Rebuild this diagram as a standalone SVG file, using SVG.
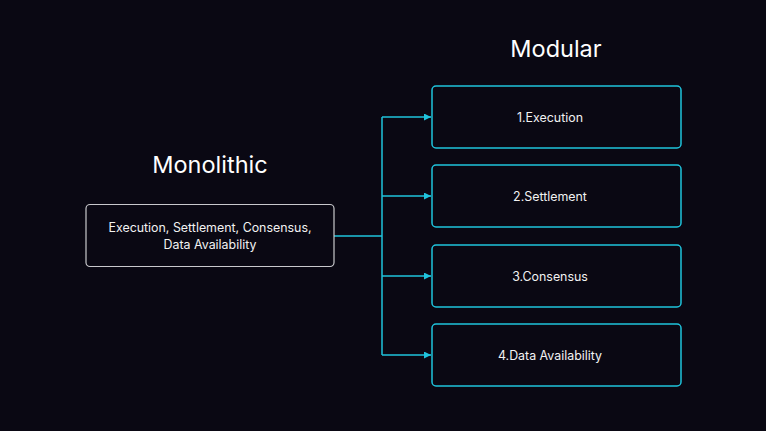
<svg xmlns="http://www.w3.org/2000/svg" width="766" height="431" viewBox="0 0 766 431">
<style>
.t{font-family:"Inter","Liberation Sans",sans-serif;fill:#ffffff;}
.title{font-size:23.5px;text-anchor:middle;}
.lbl{font-size:12.4px;text-anchor:middle;fill:#f2f2f2;}
.mod{fill:#0a0813;stroke:#1fc3dc;stroke-width:1.5;}
.mono{fill:#0a0813;stroke:#c8c8cc;stroke-width:1.2;}
.c{fill:none;stroke:#1fc3dc;stroke-width:1.5;}
</style>
<defs>
<marker id="ah" viewBox="0 0 10 10" refX="10" refY="5" markerWidth="7" markerHeight="7" markerUnits="userSpaceOnUse" orient="auto">
<path d="M0,0 L10,5 L0,10 z" fill="#1fc3dc"/>
</marker>
</defs>
<rect width="766" height="431" fill="#0a0813"/>
<text class="t title" x="210" y="173">Monolithic</text>
<text class="t title" x="556" y="57">Modular</text>
<g id="connectors">
<path class="c" d="M334,236 H382"/>
<path class="c" d="M382,117 V355"/>
<path class="c" d="M382,117 H431" marker-end="url(#ah)"/>
<path class="c" d="M382,196 H431" marker-end="url(#ah)"/>
<path class="c" d="M382,276 H431" marker-end="url(#ah)"/>
<path class="c" d="M382,355 H431" marker-end="url(#ah)"/>
</g>
<g id="monolithic">
<rect class="mono" x="86" y="204.5" width="248" height="62" rx="4"/>
<text class="t lbl" x="210" y="232">Execution, Settlement, Consensus,</text>
<text class="t lbl" x="210" y="249">Data Availability</text>
</g>
<g id="execution">
<rect class="mod" x="432" y="86" width="249" height="62" rx="4"/>
<text class="t lbl" x="550" y="122">1.Execution</text>
</g>
<g id="settlement">
<rect class="mod" x="432" y="165" width="249" height="62" rx="4"/>
<text class="t lbl" x="550" y="201">2.Settlement</text>
</g>
<g id="consensus">
<rect class="mod" x="432" y="245" width="249" height="62" rx="4"/>
<text class="t lbl" x="550" y="281">3.Consensus</text>
</g>
<g id="data-availability">
<rect class="mod" x="432" y="324" width="249" height="62" rx="4"/>
<text class="t lbl" x="550" y="360">4.Data Availability</text>
</g>
</svg>
